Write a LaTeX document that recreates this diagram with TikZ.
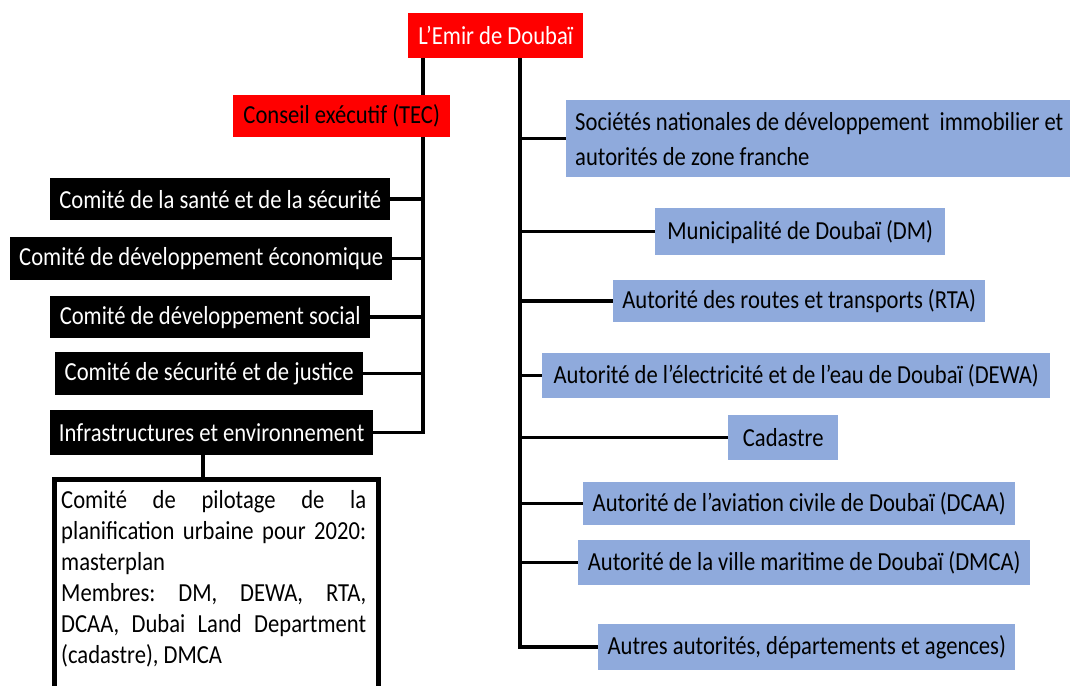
\documentclass[tikz,border=0pt]{standalone}
\usepackage{fontspec}
\setmainfont[FakeStretch=0.87]{Carlito}
\definecolor{blueF}{HTML}{8FAADC}
\definecolor{redF}{HTML}{FF0000}
\frenchspacing
\begin{document}
\begin{tikzpicture}[x=1pt,y=-1pt]
\useasboundingbox (0,0) rectangle (1070,685);
\tikzset{
 box/.style={inner sep=0pt, anchor=north west, font=\fontsize{26}{30}\selectfont},
 redbox/.style={box, fill=redF},
 blackbox/.style={box, fill=black, text=white},
 bluebox/.style={box, fill=blueF},
 conn/.style={line width=3.5pt},
}
% top
\node[redbox, text=white, minimum width=175pt, minimum height=45pt] (emir) at (408,13) {L’Emir de Doubaï};
\node[redbox, minimum width=217pt, minimum height=42pt] (tec) at (233,95) {Conseil exécutif (TEC)};
% left committees
\node[blackbox, minimum width=340pt, minimum height=42pt] (c1) at (50,178) {Comité de la santé et de la sécurité};
\node[blackbox, minimum width=382pt, minimum height=43pt] (c2) at (10,237) {Comité de développement économique};
\node[blackbox, minimum width=320pt, minimum height=42pt] (c3) at (50,296) {Comité de développement social};
\node[blackbox, minimum width=308pt, minimum height=43pt] (c4) at (55,352) {Comité de sécurité et de justice};
\node[blackbox, minimum width=323pt, minimum height=45pt] (c5) at (50,410) {Infrastructures et environnement};
% pilot box
\node[box, draw, line width=5pt, fill=white, minimum width=324pt, minimum height=220pt] (pilot) at (52,477) {};
\node[box, anchor=north west, text width=305pt, align=flush left, font=\fontsize{26}{31}\selectfont] (piltxt) at (61,490)
 {\makebox[305pt][s]{Comité de pilotage de la}\\
  \makebox[305pt][s]{planification urbaine pour 2020:}\\
  masterplan\\
  \makebox[305pt][s]{Membres: DM, DEWA, RTA,}\\
  \makebox[305pt][s]{DCAA, Dubai Land Department}\\
  (cadastre), DMCA};
% right boxes
\node[bluebox, inner xsep=9pt, text width=492pt, align=flush left, minimum height=77pt, font=\fontsize{26}{35}\selectfont] (b1) at (566,100)
 {Sociétés nationales de développement\ \ immobilier et\\autorités de zone franche};
\node[bluebox, minimum width=290pt, minimum height=47pt] (b2) at (655,208) {Municipalité de Doubaï (DM)};
\node[bluebox, minimum width=372pt, minimum height=42pt] (b3) at (613,280) {Autorité des routes et transports (RTA)};
\node[bluebox, minimum width=508pt, minimum height=45pt] (b4) at (542,353) {Autorité de l’électricité et de l’eau de Doubaï (DEWA)};
\node[bluebox, minimum width=110pt, minimum height=45pt] (b5) at (728,415) {Cadastre};
\node[bluebox, minimum width=432pt, minimum height=43pt] (b6) at (583,482) {Autorité de l’aviation civile de Doubaï (DCAA)};
\node[bluebox, minimum width=452pt, minimum height=45pt] (b7) at (578,540) {Autorité de la ville maritime de Doubaï (DMCA)};
\node[bluebox, minimum width=417pt, minimum height=46pt] (b8) at (598,624) {Autres autorités, départements et agences)};
% trunks
\coordinate (lt) at (423,0);
\coordinate (rt) at (520,0);
\coordinate (pt) at (203,0);
\draw[conn] (emir.south -| lt) -- (tec.north -| lt);
\draw[conn] (tec.south -| lt) -- (c5.east -| lt) -- (c5.east);
\foreach \n in {c1,c2,c3,c4} \draw[conn] (\n.east) -- (\n.east -| lt);
\draw[conn] (c5.south -| pt) -- (pilot.north -| pt);
\draw[conn] (emir.south -| rt) -- (b8.west -| rt) -- (b8.west);
\foreach \n in {b1,b2,b3,b4,b5,b6,b7} \draw[conn] (\n.west -| rt) -- (\n.west);
\end{tikzpicture}
\end{document}
